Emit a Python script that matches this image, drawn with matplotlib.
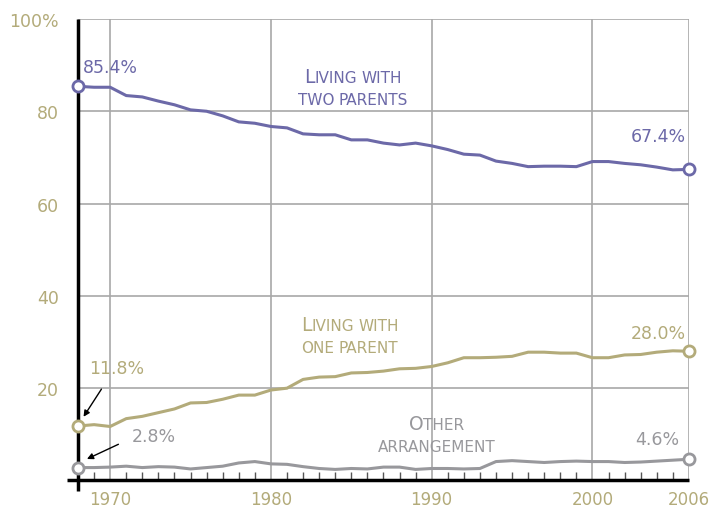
import matplotlib
matplotlib.use("Agg")
import matplotlib.pyplot as plt
from matplotlib.offsetbox import TextArea, HPacker, VPacker, AnnotationBbox

years = list(range(1968, 2007))
two_parents = [85.4, 85.2, 85.2, 83.4, 83.1, 82.2, 81.4, 80.3, 80.0, 79.0,
               77.7, 77.4, 76.7, 76.4, 75.1, 74.9, 74.9, 73.8, 73.8, 73.1,
               72.7, 73.1, 72.5, 71.7, 70.7, 70.5, 69.2, 68.7, 68.0, 68.1,
               68.1, 68.0, 69.1, 69.1, 68.7, 68.4, 67.9, 67.3, 67.4]
one_parent = [11.8, 12.1, 11.7, 13.4, 13.9, 14.7, 15.5, 16.8, 16.9, 17.6,
              18.5, 18.5, 19.6, 20.0, 21.9, 22.4, 22.5, 23.3, 23.4, 23.7,
              24.2, 24.3, 24.7, 25.5, 26.6, 26.6, 26.7, 26.9, 27.8, 27.8,
              27.6, 27.6, 26.6, 26.6, 27.2, 27.3, 27.8, 28.1, 28.0]
other = [2.8, 2.8, 2.9, 3.1, 2.8, 3.0, 2.9, 2.5, 2.8, 3.1,
         3.8, 4.1, 3.6, 3.5, 3.0, 2.6, 2.4, 2.6, 2.5, 2.9,
         2.9, 2.4, 2.6, 2.6, 2.5, 2.6, 4.1, 4.3, 4.1, 3.9,
         4.1, 4.2, 4.1, 4.1, 3.9, 4.0, 4.2, 4.4, 4.6]

x_ticks = [1970, 1980, 1990, 2000, 2006]
y_ticks = [20, 40, 60, 80, 100]
y_labels = ["20", "40", "60", "80", "100%"]

purple = "#6C69A8"
khaki = "#B3AB7A"
gray = "#98989C"
grid_c = "#A8A8A8"

plt.rcParams["font.family"] = "DejaVu Sans"

fig = plt.figure(figsize=(7.17, 5.10), dpi=100)
ax = fig.add_axes([0.1088, 0.0559, 0.852, 0.905])
ax.set_xlim(1968, 2006)
ax.set_ylim(0, 100)

for s in ax.spines.values():
    s.set_visible(False)

# grid
for yv in y_ticks:
    ax.plot([1968, 2006], [yv, yv], color=grid_c, lw=1.2, zorder=1)
for xv in x_ticks:
    ax.plot([xv, xv], [0, 100], color=grid_c, lw=1.2, zorder=1)

# axis lines
ax.plot([1967.3, 2006], [0, 0], color="black", lw=2.5, clip_on=False, zorder=4, solid_capstyle="butt")
ax.plot([1968, 1968], [-2.3, 100], color="black", lw=2.5, clip_on=False, zorder=4, solid_capstyle="butt")

# year ticks pointing up
ax.set_xticks(x_ticks)
ax.set_xticklabels([str(v) for v in x_ticks])
ax.set_xticks(years[1:-1], minor=True)
ax.tick_params(axis="x", which="major", length=0, pad=7, labelsize=12, labelcolor=khaki)
ax.tick_params(axis="x", which="minor", direction="in", length=6, width=1, color="#555555")

ax.set_yticks(y_ticks)
ax.set_yticklabels(y_labels)
ax.tick_params(axis="y", length=0, pad=14, labelsize=12.5, labelcolor=khaki)

series = [(two_parents, purple), (one_parent, khaki), (other, gray)]
for vals, c in series:
    ax.plot(years, vals, color=c, lw=2.2, zorder=5, clip_on=False)
    ax.plot([years[0], years[-1]], [vals[0], vals[-1]], linestyle="none", marker="o",
            ms=8, mfc="white", mec=c, mew=2, zorder=6, clip_on=False)

# value labels
fs = 12.5
ax.text(1968.3, 89.6, "85.4%", color=purple, fontsize=fs, va="center", ha="left")
ax.text(2005.8, 74.6, "67.4%", color=purple, fontsize=fs, va="center", ha="right")
ax.text(1968.7, 24.4, "11.8%", color=khaki, fontsize=fs, va="center", ha="left")
ax.text(1971.35, 9.6, "2.8%", color=gray, fontsize=fs, va="center", ha="left")
ax.text(2005.8, 32.0, "28.0%", color=khaki, fontsize=fs, va="center", ha="right")
ax.text(2005.4, 9.0, "4.6%", color=gray, fontsize=fs, va="center", ha="right")

ax.annotate("", xy=(1968.25, 13.3), xytext=(1969.55, 20.3),
            arrowprops=dict(arrowstyle="-|>", color="black", lw=1, mutation_scale=9), zorder=7)
ax.annotate("", xy=(1968.4, 4.4), xytext=(1970.67, 8.1),
            arrowprops=dict(arrowstyle="-|>", color="black", lw=1, mutation_scale=9), zorder=7)


def small_caps(lines, color, xy):
    # fake small caps: big first letter, smaller capitals for the rest
    rows = []
    for line in lines:
        parts = []
        for word in line.split(" "):
            if word[0].isupper():
                parts.append(TextArea(word[0], textprops=dict(color=color, size=13.5)))
                word = word[1:]
            if word:
                parts.append(TextArea(word.upper(), textprops=dict(color=color, size=11)))
            parts.append(TextArea(" ", textprops=dict(size=9)))
        rows.append(HPacker(children=parts[:-1], align="baseline", pad=0, sep=0))
    box = VPacker(children=rows, align="center", pad=0, sep=4)
    ab = AnnotationBbox(box, xy, xycoords="data", frameon=False, box_alignment=(0.5, 0.5), zorder=8)
    ax.add_artist(ab)


small_caps(["Living with", "two parents"], purple, (1985.1, 85.2))
small_caps(["Living with", "one parent"], khaki, (1984.9, 31.5))
small_caps(["Other", "arrangement"], gray, (1990.3, 10.1))

fig.savefig("out.png", dpi=100)
